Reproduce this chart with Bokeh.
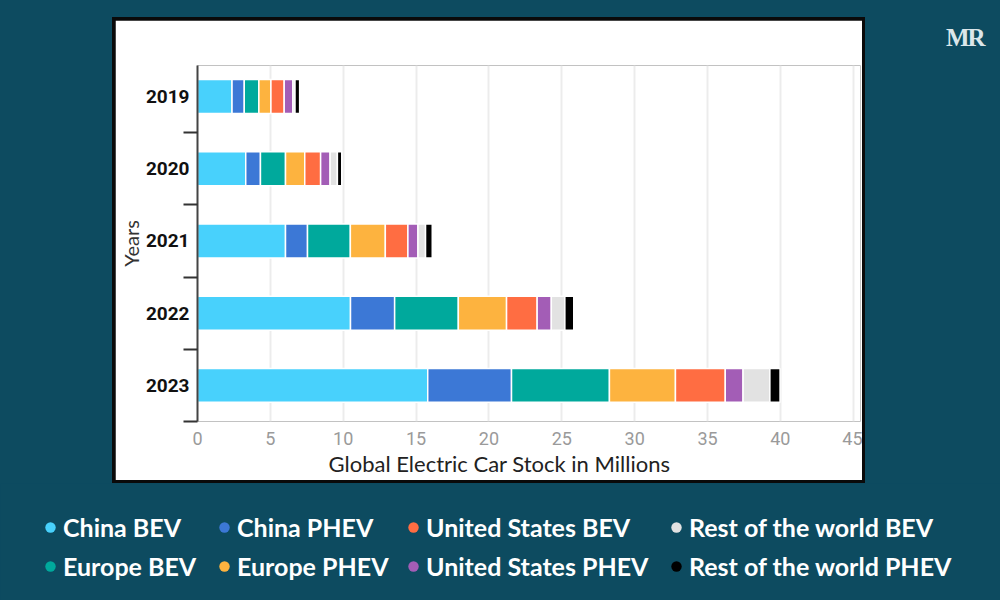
import numpy as np
from bokeh.plotting import figure
from bokeh.models import (ColumnDataSource, FixedTicker, Range1d, Legend, LegendItem, Div, Title)
from bokeh.layouts import column, row
from bokeh.embed import file_html
from bokeh.resources import INLINE

# ---------------- data (millions of cars) ----------------
years = ["2019", "2020", "2021", "2022", "2023"]
series_names = ["China BEV", "China PHEV", "Europe BEV", "Europe PHEV",
                "United States BEV", "United States PHEV",
                "Rest of the world BEV", "Rest of the world PHEV"]
china_bev = [2.37, 3.31, 6.04, 10.50, 15.80]
china_phev = [0.84, 1.01, 1.51, 3.03, 5.75]
europe_bev = [1.00, 1.72, 2.94, 4.37, 6.72]
europe_phev = [0.83, 1.32, 2.40, 3.31, 4.53]
us_bev = [0.91, 1.09, 1.55, 2.10, 3.42]
us_phev = [0.60, 0.65, 0.69, 0.97, 1.22]
rest_bev = [0.14, 0.50, 0.52, 0.93, 1.84]
rest_phev = [0.32, 0.30, 0.46, 0.61, 0.70]
x_ticks = [0, 5, 10, 15, 20, 25, 30, 35, 40, 45]

colors = ["#48d1fc", "#3c78d6", "#00a99c", "#fdb33f",
          "#ff6d42", "#a35db6", "#e2e2e2", "#000000"]
keys = ["cbev", "cphev", "ebev", "ephev", "ubev", "uphev", "rbev", "rphev"]
values = [china_bev, china_phev, europe_bev, europe_phev, us_bev, us_phev, rest_bev, rest_phev]

BG = "#0d4b60"
ypos = list(range(len(years)))
data = {"y": ypos}
for k, v in zip(keys, values):
    data[k] = v
source = ColumnDataSource(data)

# ---------------- main chart (white panel) ----------------
p = figure(width=747, height=460, output_backend="svg", toolbar_location=None,
           x_range=Range1d(0, 45.5), y_range=Range1d(4.5, -0.43),
           min_border_left=81, min_border_right=2, min_border_top=45, min_border_bottom=59,
           background_fill_color="white", border_fill_color="white",
           margin=(3, 3, 3, 3))
p.outline_line_color = None

p.hbar_stack(keys, y="y", height=0.47, color=colors, source=source,
             line_color="white", line_width=1.5)

# x axis
p.xaxis.ticker = FixedTicker(ticks=x_ticks)
p.xaxis.axis_line_color = None
p.xaxis.major_tick_line_color = None
p.xaxis.minor_tick_line_color = None
p.xaxis.major_tick_out = 0
p.xaxis.major_label_standoff = 10
p.xaxis.major_label_text_font = "Roboto"
p.xaxis.major_label_text_font_size = "18px"
p.xaxis.major_label_text_color = "#9a9a9a"

xlabel = Title(text="Global Electric Car Stock in Millions", align="left", offset=131,
               text_font="Lato", text_font_style="normal", text_font_size="22px",
               text_color="#222222", standoff=0)
p.add_layout(xlabel, "below")

# y axis
p.yaxis.ticker = FixedTicker(ticks=ypos, minor_ticks=[i + 0.5 for i in ypos])
p.yaxis.major_label_overrides = {i: y for i, y in zip(ypos, years)}
p.yaxis.axis_line_color = "#444444"
p.yaxis.axis_line_width = 2
p.yaxis.major_tick_line_color = None
p.yaxis.major_tick_out = 0
p.yaxis.major_tick_in = 0
p.yaxis.minor_tick_line_color = "#333333"
p.yaxis.minor_tick_line_width = 2
p.yaxis.minor_tick_out = 14
p.yaxis.minor_tick_in = 0
p.yaxis.major_label_standoff = -6
p.yaxis.major_label_text_font = "Roboto"
p.yaxis.major_label_text_font_style = "bold"
p.yaxis.major_label_text_font_size = "19px"
p.yaxis.major_label_text_color = "#111111"
p.yaxis.axis_label = "Years"
p.yaxis.axis_label_text_font = "Lato"
p.yaxis.axis_label_text_font_style = "normal"
p.yaxis.axis_label_text_font_size = "20px"
p.yaxis.axis_label_text_color = "#333333"
p.yaxis.axis_label_standoff = 0

p.xgrid.grid_line_color = "#ececec"
p.xgrid.grid_line_width = 2
p.ygrid.grid_line_color = None

panel = column(p, margin=(17, 0, 0, 112), styles={"background-color": "#0a0a0a"})

# logo
logo = Div(text="MR", margin=(20, 0, 0, 81), width=46, height=30,
           styles={"color": "#dbe6ea", "font-family": "Liberation Serif",
                   "font-size": "25px", "font-weight": "bold", "letter-spacing": "-2px"})

# ---------------- legend strip ----------------
lg = figure(width=1000, height=117, output_backend="svg", toolbar_location=None,
            x_axis_type=None, y_axis_type=None, x_range=Range1d(0, 1), y_range=Range1d(0, 1),
            min_border=0, background_fill_color=BG, border_fill_color=BG)
lg.outline_line_color = None
lg.xgrid.grid_line_color = None
lg.ygrid.grid_line_color = None

# legend proxies (no visible data)
dummies = [lg.scatter(x=[np.nan], y=[np.nan], marker="circle", color=c, line_color=None)
           for c in colors]

legend_columns = [[0, 2], [1, 3], [4, 5], [6, 7]]
legend_left = [37, 211, 400, 663]
for cols, xl in zip(legend_columns, legend_left):
    items = [LegendItem(label=series_names[i], renderers=[dummies[i]]) for i in cols]
    leg = Legend(items=items, location=(xl, 19), orientation="vertical",
                 glyph_width=26, glyph_height=26, label_height=28, label_standoff=0,
                 spacing=9, padding=0, margin=0,
                 background_fill_alpha=0, border_line_color=None,
                 label_text_color="white", label_text_font="Lato",
                 label_text_font_style="bold", label_text_font_size="25px",
                 label_text_baseline="middle")
    lg.add_layout(leg)

layout = column(row(panel, logo), lg, styles={"background-color": BG})

open("out.html", "w").write(file_html(layout, INLINE))
